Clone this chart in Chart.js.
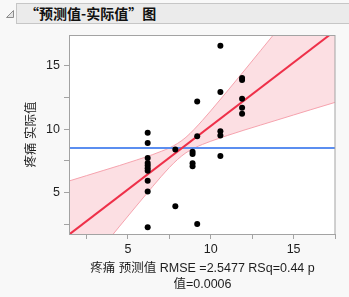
<!DOCTYPE html>
<html lang="zh-CN">
<head>
<meta charset="utf-8">
<script src="https://cdn.jsdelivr.net/npm/chart.js@4/dist/chart.umd.min.js"></script>
<style>
    body { margin: 0; background: #f8f8f8; width: 349px; height: 297px; overflow: hidden; position: relative; }
    #chart { position: absolute; left: 0; top: 0; }
    .titlebar {
        position: absolute; left: 16px; top: 3px; width: 330px; height: 19px;
        border: 1px solid #c6c6c6; background: #ebebeb;
        font: bold 14px "Noto Sans CJK SC", sans-serif; color: #111;
        line-height: 19px; padding-left: 8px; box-sizing: content-box;
    }
    .tri { position: absolute; left: 5px; top: 9px; }
</style>
</head>
<body>
<svg class="tri" width="10" height="10"><polygon points="1.5,8.5 8.5,8.5 8.5,1.5" fill="#e4e4e4" stroke="#8c8c8c" stroke-width="1"/></svg>
<div class="titlebar">“预测值-实际值”图</div>
<canvas id="chart" width="349" height="297"></canvas>
<script>
const predicted = [6.19, 6.19, 6.19, 6.19, 6.19, 6.19, 6.19, 6.19, 6.19, 6.19,
    7.86, 7.86,
    8.90, 8.90, 8.90, 8.90,
    9.18, 9.18, 9.18,
    10.58, 10.58, 10.58, 10.58, 10.58,
    11.89, 11.89, 11.89, 11.89, 11.89];
const actual = [9.71, 8.92, 7.73, 7.34, 7.13, 6.92, 6.73, 5.94, 5.08, 2.27,
    8.39, 3.92,
    8.23, 8.05, 7.32, 7.08,
    12.18, 9.45, 2.53,
    16.57, 12.92, 9.84, 9.50, 7.89,
    14.03, 13.87, 12.39, 11.68, 11.21];

// fit line, mean line and confidence band edges
const fitX = [1.5, 17.5];
const fitY = [1.75, 17.75];
const meanY = 8.52;
const bandX = [1.5, 2.5, 3.5, 4.5, 5.5, 6.5, 7, 7.5, 8, 8.5, 9, 9.5, 10, 11, 12, 13, 14, 15, 16, 17.5];
const bandUpper = [5.94, 6.34, 6.74, 7.14, 7.56, 8.00, 8.25, 8.52, 8.88, 9.36, 9.99, 10.70, 11.45, 13.0, 14.58, 16.18, 17.78, 19.38, 20.98, 23.39];
const bandLower = [-2.44, -0.84, 0.76, 2.36, 3.94, 5.50, 6.26, 6.98, 7.62, 8.14, 8.51, 8.80, 9.05, 9.50, 9.92, 10.32, 10.72, 11.12, 11.52, 12.11];

const xTicks = [2.5, 5, 7.5, 10, 12.5, 15, 17.5];
const yTicks = [2.5, 5, 7.5, 10, 12.5, 15];
const xLabels = [5, 10, 15];
const yLabels = [5, 10, 15];

const xTitle = ["疼痛 预测值 RMSE =2.5477 RSq=0.44 p", "值=0.0006"];
const yTitle = "疼痛 实际值";

const font = '"Segoe UI", "Liberation Sans", "Noto Sans CJK SC", sans-serif';

const pts = predicted.map((x, i) => ({ x: x, y: actual[i] }));
const upper = bandX.map((x, i) => ({ x: x, y: bandUpper[i] }));
const lower = bandX.map((x, i) => ({ x: x, y: bandLower[i] }));

const frame = {
    id: 'frame',
    beforeDraw(chart) {
        const a = chart.chartArea, ctx = chart.ctx;
        ctx.save();
        ctx.fillStyle = '#ffffff';
        ctx.fillRect(a.left, a.top, a.right - a.left, a.bottom - a.top);
        ctx.restore();
    },
    afterDraw(chart) {
        const a = chart.chartArea, ctx = chart.ctx;
        ctx.save();
        ctx.strokeStyle = '#a3a3a3';
        ctx.lineWidth = 1;
        ctx.strokeRect(a.left - 0.5, a.top + 0.5, a.right - a.left + 0.5, a.bottom - a.top);
        // axis titles
        ctx.fillStyle = '#1e1e1e';
        ctx.font = '12.5px ' + font;
        ctx.textAlign = 'center';
        ctx.textBaseline = 'middle';
        const cx = (a.left + a.right) / 2;
        ctx.fillText(xTitle[0], cx, 269);
        ctx.fillText(xTitle[1], cx, 285);
        ctx.translate(32, (a.top + a.bottom) / 2);
        ctx.rotate(-Math.PI / 2);
        ctx.fillText(yTitle, 0, 0);
        ctx.restore();
    }
};

const config = {
    type: 'scatter',
    data: {
        datasets: [
            {
                data: pts,
                backgroundColor: '#000000',
                borderWidth: 0,
                pointRadius: 3,
            },
            {
                data: fitX.map((x, i) => ({ x: x, y: fitY[i] })),
                showLine: true,
                borderColor: '#ee3049',
                borderWidth: 2,
                pointRadius: 0,
            },
            {
                data: [{ x: fitX[0], y: meanY }, { x: fitX[1], y: meanY }],
                showLine: true,
                borderColor: '#5b8ef0',
                borderWidth: 2,
                pointRadius: 0,
            },
            {
                data: upper,
                showLine: true,
                borderColor: '#f6a3ae',
                borderWidth: 1,
                pointRadius: 0,
                cubicInterpolationMode: 'monotone',
                fill: false,
            },
            {
                data: lower,
                showLine: true,
                borderColor: '#f6a3ae',
                borderWidth: 1,
                pointRadius: 0,
                cubicInterpolationMode: 'monotone',
                backgroundColor: 'rgba(246, 170, 182, 0.38)',
                fill: '-1',
            },
        ]
    },
    options: {
        responsive: false,
        animation: false,
        events: [],
        layout: { padding: { top: 35, right: 14, left: 0, bottom: 0 } },
        plugins: { legend: { display: false }, tooltip: { enabled: false } },
        scales: {
            x: {
                type: 'linear',
                min: 1.5,
                max: 17.5,
                afterBuildTicks: (s) => { s.ticks = xTicks.map(v => ({ value: v })); },
                afterFit: (s) => { s.height = 63; },
                ticks: {
                    autoSkip: false, maxRotation: 0, padding: 3,
                    color: '#1e1e1e', font: { family: font, size: 12.5 },
                    callback: (v) => xLabels.includes(v) ? String(v) : '',
                },
                grid: { drawOnChartArea: false, drawTicks: true, tickLength: 5, color: '#a3a3a3' },
                border: { display: false },
            },
            y: {
                type: 'linear',
                min: 1.74,
                max: 17.42,
                afterBuildTicks: (s) => { s.ticks = yTicks.map(v => ({ value: v })); },
                afterFit: (s) => { s.width = 70; },
                ticks: {
                    autoSkip: false, padding: 4,
                    color: '#1e1e1e', font: { family: font, size: 12.5 },
                    callback: (v) => yLabels.includes(v) ? String(v) : '',
                },
                grid: { drawOnChartArea: false, drawTicks: true, tickLength: 6, color: '#a3a3a3' },
                border: { display: false },
            }
        }
    },
    plugins: [frame]
};

new Chart(document.getElementById('chart'), config);
</script>
</body>
</html>
